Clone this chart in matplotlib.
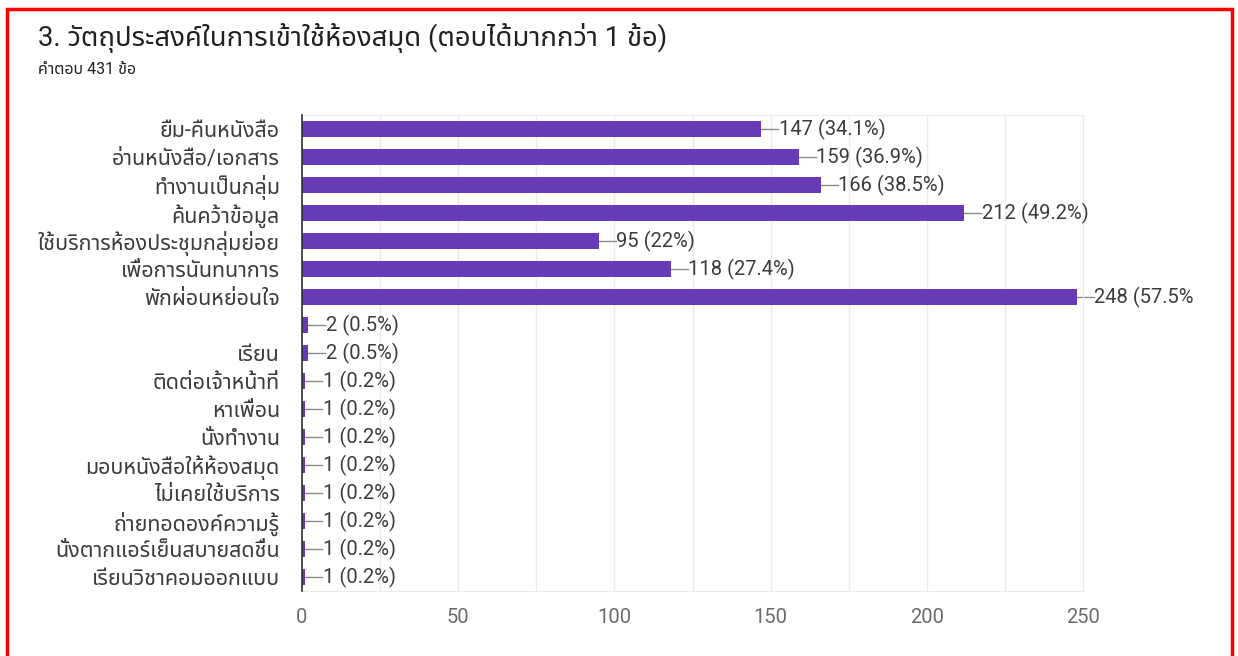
import matplotlib
matplotlib.use('Agg')
import matplotlib.pyplot as plt
from matplotlib.patches import Rectangle
from matplotlib.transforms import Bbox, TransformedBbox

# fonts: Roboto for latin/digits, thai glyphs fall through to a thai family
plt.rcParams['font.family'] = ['Roboto', 'Noto Sans Thai', 'Sarabun', 'Bai Jamjuree', 'DejaVu Sans']

title = '3. วัตถุประสงค์ในการเข้าใช้ห้องสมุด (ตอบได้มากกว่า 1 ข้อ)'
subtitle = 'คำตอบ 431 ข้อ'
total = 431

labels = ['ยืม-คืนหนังสือ', 'อ่านหนังสือ/เอกสาร', 'ทำงานเป็นกลุ่ม', 'ค้นคว้าข้อมูล',
          'ใช้บริการห้องประชุมกลุ่มย่อย', 'เพื่อการนันทนาการ', 'พักผ่อนหย่อนใจ', '',
          'เรียน', 'ติดต่อเจ้าหน้าที่', 'หาเพื่อน', 'นั่งทำงาน', 'มอบหนังสือให้ห้องสมุด',
          'ไม่เคยใช้บริการ', 'ถ่ายทอดองค์ความรู้', 'นั่งตากแอร์เย็นสบายสดชื่น', 'เรียนวิชาคอมออกแบบ']
counts = [147, 159, 166, 212, 95, 118, 248, 2, 2, 1, 1, 1, 1, 1, 1, 1, 1]
xticks = [0, 50, 100, 150, 200, 250]

purple = '#673ab7'

def pct_label(v):
    '''
    google forms style: 95 (22%), 147 (34.1%)
    '''
    p = '%.1f' % (100.0 * v / total)
    if p.endswith('.0'):
        p = p[:-2]
    return '%d (%s%%)' % (v, p)

fig = plt.figure(figsize=(12.38, 6.56), dpi=100)
ax = fig.add_axes([302 / 1238, 1 - 591 / 656, (1083 - 302) / 1238, (591 - 115) / 656])

y = list(range(len(labels)))
ax.barh(y, counts, height=0.57, color=purple, zorder=3)

# clip the long label at the right like the screenshot does
clip = TransformedBbox(Bbox([[0, 0], [1194 / 1238, 1]]), fig.transFigure)
for i, v in enumerate(counts):
    ax.plot([v, v + 5.5], [i, i], color='#8a8a8a', lw=1, zorder=2, clip_on=False)
    t = ax.text(v + 5.6, i, pct_label(v), va='center', ha='left', fontsize=14.5,
                color='#3c3c3c', clip_on=True)
    t.set_clip_box(clip)

ax.set_ylim(len(labels) - 0.5, -0.5)
ax.set_xlim(0, 250)
ax.set_yticks(y)
ax.set_yticklabels(labels, fontsize=15.5, color='#3c3c3c')
ax.set_xticks(xticks)
ax.set_xticklabels([str(t) for t in xticks], fontsize=14.5, color='#6b6b6b')
ax.set_xticks(range(25, 250, 50), minor=True)
ax.tick_params(axis='both', which='both', length=0)
ax.tick_params(axis='y', pad=16)
ax.tick_params(axis='x', pad=12)
ax.grid(axis='x', which='both', color='#ebebeb', lw=1, zorder=0)

for s in ['top', 'right', 'bottom']:
    ax.spines[s].set_color('#ebebeb')
ax.spines['left'].set_color('#333333')
ax.spines['left'].set_linewidth(1.2)
ax.spines['left'].set_zorder(4)

fig.text(38 / 1238, 1 - 38 / 656, title, fontsize=19.8, color='#212121', va='center', ha='left')
fig.text(38 / 1238, 1 - 70 / 656, subtitle, fontsize=11.5, color='#212121', va='center', ha='left')

# red frame from the screenshot
fig.add_artist(Rectangle((7 / 1238, -0.05), (1232 - 7) / 1238, (656 - 9) / 656 + 0.05,
                         transform=fig.transFigure, fill=False, edgecolor='#ff0000', lw=2.5))

fig.savefig('out.png', dpi=100)
